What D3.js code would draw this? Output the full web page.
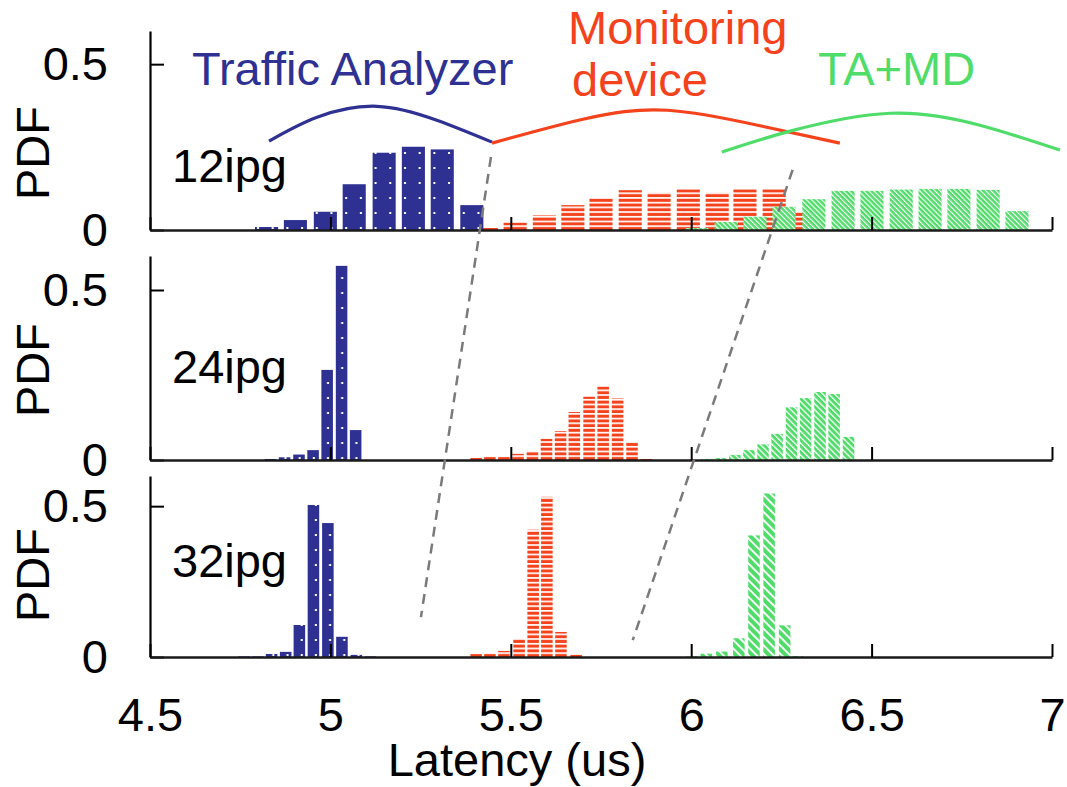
<!DOCTYPE html>
<html>
<head>
<meta charset="utf-8">
<script src="https://cdnjs.cloudflare.com/ajax/libs/d3/7.8.5/d3.min.js"></script>
<style>
body { margin: 0; background: #fff; }
text { font-family: "Liberation Sans", Arial, Helvetica, sans-serif; }
</style>
</head>
<body>
<script>
var x_ticks = [4.5, 5, 5.5, 6, 6.5, 7],
    y_ticks = [0, 0.5];

var panel_labels = ["12ipg", "24ipg", "32ipg"];
var series_labels = ["Traffic Analyzer", "Monitoring device", "TA+MD"];

// 12ipg
var ta_12_x = [4.823, 4.903, 4.986, 5.066, 5.149, 5.230, 5.310, 5.392],
    ta_12_y = [0.009, 0.030, 0.055, 0.138, 0.233, 0.251, 0.243, 0.075];
var md_12_x = [5.432, 5.512, 5.593, 5.672, 5.750, 5.831, 5.911, 5.992, 6.072, 6.149, 6.230, 6.310],
    md_12_y = [0.006, 0.022, 0.044, 0.075, 0.096, 0.120, 0.112, 0.123, 0.112, 0.123, 0.123, 0.055];
var tamd_12_x = [6.016, 6.097, 6.177, 6.257, 6.340, 6.421, 6.501, 6.582, 6.662, 6.742, 6.823, 6.903],
    tamd_12_y = [0.006, 0.024, 0.040, 0.070, 0.093, 0.118, 0.118, 0.122, 0.124, 0.124, 0.121, 0.057];

// 24ipg
var ta_24_x = [4.834, 4.873, 4.913, 4.952, 4.991, 5.031, 5.070],
    ta_24_y = [0.003, 0.008, 0.016, 0.029, 0.265, 0.571, 0.088];
var md_24_x = [5.404, 5.442, 5.481, 5.520, 5.560, 5.599, 5.638, 5.676, 5.717, 5.756, 5.796, 5.836, 5.875],
    md_24_y = [0.006, 0.009, 0.009, 0.018, 0.026, 0.062, 0.085, 0.141, 0.186, 0.216, 0.181, 0.052, 0.003];
var tamd_24_x = [6.044, 6.082, 6.121, 6.160, 6.199, 6.238, 6.278, 6.317, 6.357, 6.396, 6.436],
    tamd_24_y = [0.003, 0.006, 0.015, 0.029, 0.046, 0.077, 0.155, 0.182, 0.200, 0.194, 0.068];

// 32ipg
var ta_32_x = [4.761, 4.799, 4.837, 4.876, 4.914, 4.953, 4.993, 5.032, 5.072, 5.111],
    ta_32_y = [0.002, 0.002, 0.010, 0.017, 0.106, 0.504, 0.444, 0.067, 0.007, 0.002];
var md_32_x = [5.404, 5.442, 5.481, 5.523, 5.562, 5.600, 5.639, 5.681],
    md_32_y = [0.010, 0.011, 0.020, 0.060, 0.422, 0.531, 0.083, 0.007];
var tamd_32_x = [6.002, 6.042, 6.085, 6.132, 6.174, 6.216, 6.259, 6.295],
    tamd_32_y = [0.002, 0.011, 0.018, 0.062, 0.403, 0.542, 0.105, 0.003];

// hand-drawn arcs over the 12ipg panel (latency, pdf)
var ta_arc = [[4.830, 0.268], [4.963, 0.340], [5.129, 0.373], [5.295, 0.331], [5.448, 0.265]],
    md_arc = [[5.448, 0.262], [5.700, 0.334], [5.935, 0.361], [6.200, 0.312], [6.412, 0.262]],
    tamd_arc = [[6.085, 0.235], [6.274, 0.298], [6.551, 0.352], [6.800, 0.316], [7.022, 0.241]];

// dashed guides: [latency, panel, pdf] start and end
var guides = [[[5.445, 0, 0.220], [5.251, 2, 0.132]],
              [[6.281, 0, 0.181], [5.838, 2, 0.056]]];

var blue = "#2e3192",
    red = "#f4421c",
    green = "#4fdc69";

var font_px = 47;

var svg = d3.select("body").append("svg")
            .attr("width", 1067)
            .attr("height", 787);

var defs = svg.append("defs");

var xScale = d3.scaleLinear()
        .domain([4.5, 7])
        .range([150, 1052]);

var panels = [
    {top: 31,  base: 230, label_y: 182, pdf_y: 153, bin: 0.064, dot: 14.7, dot_dx: 2, hatch: 3.6},
    {top: 256, base: 460, label_y: 383, pdf_y: 370, bin: 0.032, dot: 14.2, dot_dx: 5.5, hatch: 4.2},
    {top: 476, base: 657, label_y: 577, pdf_y: 575, bin: 0.032, dot: 14.2, dot_dx: 5.5, hatch: 5.9}
];

var panel_series = [
    [[ta_12_x, ta_12_y], [md_12_x, md_12_y], [tamd_12_x, tamd_12_y]],
    [[ta_24_x, ta_24_y], [md_24_x, md_24_y], [tamd_24_x, tamd_24_y]],
    [[ta_32_x, ta_32_y], [md_32_x, md_32_y], [tamd_32_x, tamd_32_y]]
];

var yScales = panels.map(function(p) {
    return d3.scaleLinear().domain([0, 0.6]).range([p.base, p.top]);
});

panels.forEach(function(p, i) {
    var bar_px = xScale(p.bin) - xScale(0);

    // white dots on blue
    var first_left = xScale(panel_series[i][0][0][0]) - bar_px / 2;
    var dots = defs.append("pattern")
        .attr("id", "dots_" + i)
        .attr("patternUnits", "userSpaceOnUse")
        .attr("x", first_left)
        .attr("y", p.base)
        .attr("width", p.dot)
        .attr("height", 15);
    dots.append("rect").attr("width", p.dot).attr("height", 15).attr("fill", blue);
    dots.append("rect").attr("x", p.dot_dx).attr("y", 12).attr("width", 2).attr("height", 2).attr("fill", "white");

    // horizontal red stripes
    var stripes = defs.append("pattern")
        .attr("id", "stripes_" + i)
        .attr("patternUnits", "userSpaceOnUse")
        .attr("y", p.base)
        .attr("width", 10)
        .attr("height", 4.7);
    stripes.append("rect").attr("width", 10).attr("height", 4.7).attr("fill", "white");
    stripes.append("rect").attr("y", 1.7).attr("width", 10).attr("height", 3).attr("fill", red);

    // diagonal green hatch
    var hatch = defs.append("pattern")
        .attr("id", "hatch_" + i)
        .attr("patternUnits", "userSpaceOnUse")
        .attr("width", p.hatch)
        .attr("height", p.hatch)
        .attr("patternTransform", "rotate(-45)");
    hatch.append("rect").attr("width", p.hatch).attr("height", p.hatch).attr("fill", green);
    hatch.append("rect").attr("width", p.hatch * 0.32).attr("height", p.hatch).attr("fill", "white");
});

var fills = ["dots_", "stripes_", "hatch_"];

panels.forEach(function(p, i) {
    var yScale = yScales[i];
    var g = svg.append("g").attr("class", "panel");
    var bar_px = xScale(p.bin) - xScale(0);

    // red first, then blue over it, green on top
    [1, 0, 2].forEach(function(k) {
        var s = panel_series[i][k];
        g.append("g").selectAll("rect")
            .data(d3.zip(s[0], s[1]))
            .enter().append("rect")
            .attr("x", function(d) { return xScale(d[0]) - bar_px / 2; })
            .attr("width", bar_px)
            .attr("y", function(d) { return yScale(d[1]); })
            .attr("height", function(d) { return yScale(0) - yScale(d[1]); })
            .style("fill", "url(#" + fills[k] + i + ")");
    });

    var yAxis = d3.axisLeft(yScale)
        .tickValues(y_ticks)
        .tickFormat(function(d) { return String(d); })
        .tickSizeInner(-14)
        .tickSizeOuter(0)
        .tickPadding(42);

    var xAxis = d3.axisBottom(xScale)
        .tickValues(x_ticks)
        .tickFormat(i == 2 ? function(d) { return String(d); } : "")
        .tickSizeInner(-13)
        .tickSizeOuter(0)
        .tickPadding(41);

    var ya = g.append("g")
        .attr("transform", "translate(150,0)")
        .call(yAxis);
    var xa = g.append("g")
        .attr("transform", "translate(0," + p.base + ")")
        .call(xAxis);

    [ya, xa].forEach(function(a) {
        a.attr("font-size", font_px).attr("font-family", null);
        a.selectAll("text").attr("fill", "black");
        a.selectAll("line").attr("stroke", "black").attr("stroke-width", 2);
        a.select(".domain").attr("stroke", "black").attr("stroke-width", 2.2);
    });
    xa.select(".domain").attr("stroke-width", 2.6).attr("stroke", "#1a1a1a");

    g.append("text")
        .attr("x", 172)
        .attr("y", p.label_y)
        .attr("font-size", font_px)
        .text(panel_labels[i]);

    g.append("text")
        .attr("transform", "translate(49," + p.pdf_y + ") rotate(-90)")
        .attr("text-anchor", "middle")
        .attr("font-size", font_px)
        .text("PDF");
});

// arcs over the top panel
var arc_line = d3.line()
    .x(function(d) { return xScale(d[0]); })
    .y(function(d) { return yScales[0](d[1]); })
    .curve(d3.curveNatural);

[[ta_arc, blue], [md_arc, red], [tamd_arc, green]].forEach(function(a) {
    svg.append("path")
        .attr("d", arc_line(a[0]))
        .attr("fill", "none")
        .attr("stroke", a[1])
        .attr("stroke-width", 3.2);
});

// dashed guides across panels
guides.forEach(function(gd) {
    svg.append("line")
        .attr("x1", xScale(gd[0][0]))
        .attr("y1", yScales[gd[0][1]](gd[0][2]))
        .attr("x2", xScale(gd[1][0]))
        .attr("y2", yScales[gd[1][1]](gd[1][2]))
        .attr("stroke", "#7a7a7a")
        .attr("stroke-width", 2.5)
        .attr("stroke-dasharray", "10,7");
});

// series labels
svg.append("text")
    .attr("x", 192).attr("y", 85)
    .attr("font-size", font_px)
    .attr("fill", blue)
    .text(series_labels[0]);

var md_words = series_labels[1].split(" ");
var md_text = svg.append("text")
    .attr("font-size", font_px)
    .attr("fill", red);
md_text.append("tspan").attr("x", 568).attr("y", 44).text(md_words[0]);
md_text.append("tspan").attr("x", 572).attr("y", 96).text(md_words[1]);

svg.append("text")
    .attr("x", 818).attr("y", 85)
    .attr("font-size", font_px)
    .attr("fill", green)
    .text(series_labels[2]);

svg.append("text")
    .attr("x", 517).attr("y", 776)
    .attr("text-anchor", "middle")
    .attr("font-size", font_px)
    .text("Latency (us)");
</script>
</body>
</html>
